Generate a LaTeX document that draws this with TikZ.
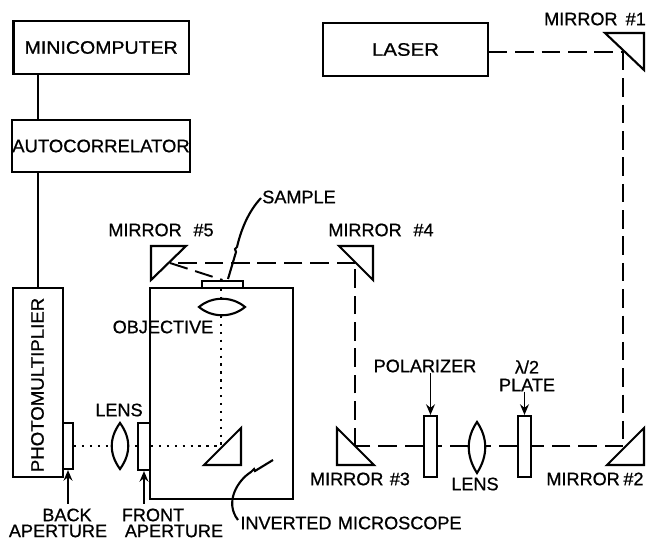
\documentclass[tikz,border=0pt]{standalone}
\usepackage{fontspec}
\setmainfont{Liberation Sans}[BoldFont={Liberation Sans},BoldFeatures={FakeBold=0.8}]
\usetikzlibrary{arrows.meta,calc,positioning}
\newcommand{\widen}[2]{\scalebox{#1}[1]{#2}}

\begin{document}
\begin{tikzpicture}[
  x=0.02cm, y=-0.02cm,
  >={Stealth[length=6pt,width=5pt]},
  geom/.style={line width=1.2pt, line join=miter},
  box/.style={draw, line width=1.2pt, inner sep=0pt, anchor=center},
  beam/.style={line width=1.1pt, dash pattern=on 10.5pt off 4.5pt},
  dots/.style={line width=1.2pt, dash pattern=on 1.3pt off 3.2pt},
  pointer/.style={->, line width=1.1pt},
  label/.style={inner sep=0pt, font=\fontsize{10.3}{12}\selectfont\bfseries}
]
  \useasboundingbox (0,0) rectangle (647,540);

  % electronics on the left
  \node[box, minimum width=3.51cm, minimum height=1.06cm, label] (mini) at (101.2,47.5) {\widen{1.08}{MINICOMPUTER}};
  \node[box, minimum width=3.48cm, minimum height=1.04cm, label] (auto) at (101,146) {\widen{1.02}{AUTOCORRELATOR}};
  \node[box, minimum width=1cm, minimum height=3.78cm] (pm) at (38,382.5) {};
  \node[label, rotate=90] (pmtext) at (37.5,385) {\widen{1.03}{PHOTOMULTIPLIER}};
  \draw[geom] (pm.north |- mini.south) -- (pm.north |- auto.north);
  \draw[geom] (pm.north |- auto.south) -- (pm.north);

  % laser and the folded beam
  \node[box, minimum width=3.3cm, minimum height=1.06cm, label] (laser) at (405.5,49.5) {\widen{1.13}{LASER}};
  \coordinate (M1) at (623,52);
  \coordinate (M2) at (623,446);
  \coordinate (M3) at (355,446);
  \coordinate (M4) at (355,263);
  \coordinate (M5) at (170,263);
  \draw[geom] (605,33) -- (644,33) -- (644,70) -- cycle;
  \draw[geom] (644,428) -- (644,465) -- (607,465) -- cycle;
  \draw[geom] (337,428) -- (337,465) -- (374,465) -- cycle;
  \draw[geom] (339,246) -- (373,246) -- (373,280) -- cycle;
  \draw[geom] (151,246) -- (186,246) -- (151,280) -- cycle;

  % optics on the bench
  \node[box, minimum width=0.26cm, minimum height=1.22cm] (polarizer) at (430.5,446.5) {};
  \node[box, minimum width=0.26cm, minimum height=1.22cm] (plate) at (524.5,446.5) {};
  \coordinate (benchlens) at (477,447);
  \draw[geom] (477,422) .. controls (466,438) and (466,456) .. (477,473)
    .. controls (488,456) and (488,438) .. cycle;

  \draw[beam] (laser.east |- M1) -- (M1);
  \draw[beam] (M1) -- (M2);
  \draw[beam] (M2) -- (plate.east |- M2);
  \draw[beam] (plate.west |- M2) -- ($(benchlens)+(9,-1)$);
  \draw[beam] ($(benchlens)+(-9,-1)$) -- (polarizer.east |- M3);
  \draw[beam] (polarizer.west |- M3) -- (M3);
  \draw[beam] (M3) -- (M4);
  \draw[beam] (M4) -- (M5);

  % microscope
  \node[box, minimum width=2.86cm, minimum height=4.22cm] (scope) at (221.5,393.5) {};
  \node[box, minimum width=0.82cm, minimum height=0.14cm] (sample) at (222.5,284.5) {};
  \draw[beam] (M5) -- (sample.north);
  \draw[geom, fill=white] (199,307) .. controls (212,296) and (232,296) .. (245,307)
    .. controls (232,318) and (212,318) .. cycle;
  \draw[geom] (204,465) -- (241,428) -- (241,465) -- cycle;
  \coordinate (turn) at (221,446);
  \draw[dots] (sample.south -| turn) -- (221,298);
  \draw[dots] (221,316) -- (turn);

  % apertures and collecting lens
  \node[box, minimum width=0.2cm, minimum height=0.92cm] (back) at (68,446) {};
  \node[box, minimum width=0.24cm, minimum height=0.94cm] (front) at (144,446.5) {};
  \draw[geom] (120,423) .. controls (109,438) and (109,454) .. (120,469)
    .. controls (131,454) and (131,438) .. cycle;
  \draw[dots] (back.east |- turn) -- (113,446);
  \draw[dots] (127,446) -- (front.west |- turn);
  \draw[dots] (front.east |- turn) -- (turn);

  % leaders
  \draw[geom] (261,198) .. controls (248,212) and (241,230) .. (237,247)
    -- (235,249) -- (236,252) -- (228,279);
  \draw[geom] (273,460) -- (255,471) -- (254,469) -- (251,472)
    .. controls (238,480) and (224,502) .. (238,520);

  \node[label] (polarizertext) at (425,366) {POLARIZER};
  \node[label] (lambdatext) at (527,367) {λ/2};
  \node[label] (platetext) at (527,385) {PLATE};
  \node[label] (backtext) at (67,515) {BACK};
  \node[label] (backtext2) at (58,531) {APERTURE};
  \node[label] (fronttext) at (153,515) {FRONT};
  \node[label] (fronttext2) at (174,531) {APERTURE};
  \draw[pointer] (polarizertext.south -| polarizer) -- (polarizer.north);
  \draw[pointer] (platetext.south -| plate) -- (plate.north);
  \draw[pointer, shorten <=2.5pt] (backtext.north -| back) -- (back.south);
  \draw[pointer, shorten <=2.5pt] (fronttext.north -| front) -- (front.south);

  \foreach \p/\n/\t in {595/19/{MIRROR\hspace{0.45em}\#1},161/230/{MIRROR\hspace{0.65em}\#5},381/230/{MIRROR\hspace{0.65em}\#4},
    360/479/{MIRROR\hspace{0.35em}\#3},595/479/{MIRROR\hspace{0.2em}\#2},299/197/SAMPLE,163/327/OBJECTIVE,119/410/LENS,
    475/484/LENS,351/523/{INVERTED\hspace{0.35em}MICROSCOPE}}
    \node[label] at (\p,\n) {\t};
\end{tikzpicture}
\end{document}
